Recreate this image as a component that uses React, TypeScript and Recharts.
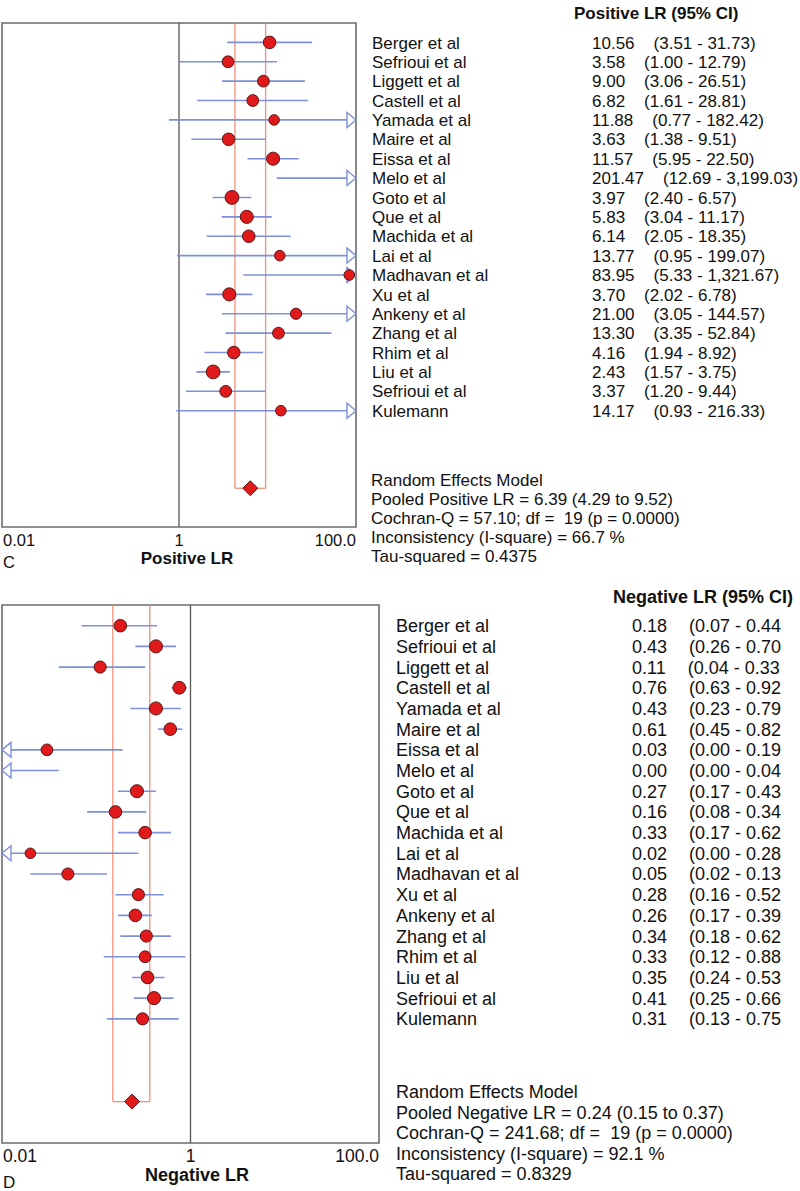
import React from "react";
import {
  ScatterChart, Scatter, XAxis, YAxis, ZAxis,
  ReferenceLine, ReferenceArea,
} from "recharts";

const FONT = "'Liberation Sans', Arial, sans-serif";

// ---- shared
const studies = [
  "Berger et al", "Sefrioui et al", "Liggett et al", "Castell et al", "Yamada et al",
  "Maire et al", "Eissa et al", "Melo et al", "Goto et al", "Que et al",
  "Machida et al", "Lai et al", "Madhavan et al", "Xu et al", "Ankeny et al",
  "Zhang et al", "Rhim et al", "Liu et al", "Sefrioui et al", "Kulemann",
];
const xTicks = [0.01, 1, 100];
const xTickLabels = ["0.01", "1", "100.0"];
const xDomain: [number, number] = [0.01, 100];

// ---- positive LR
const posLR = [10.56, 3.58, 9.0, 6.82, 11.88, 3.63, 11.57, 201.47, 3.97, 5.83, 6.14, 13.77, 83.95, 3.7, 21.0, 13.3, 4.16, 2.43, 3.37, 14.17];
const posLow = [3.51, 1.0, 3.06, 1.61, 0.77, 1.38, 5.95, 12.69, 2.4, 3.04, 2.05, 0.95, 5.33, 2.02, 3.05, 3.35, 1.94, 1.57, 1.2, 0.93];
const posHigh = [31.73, 12.79, 26.51, 28.81, 182.42, 9.51, 22.5, 3199.03, 6.57, 11.17, 18.35, 199.07, 1321.67, 6.78, 144.57, 52.84, 8.92, 3.75, 9.44, 216.33];
const posWeight = [5.8, 5.1, 5.1, 5.1, 4.1, 5.8, 6.3, 4.0, 7.0, 6.3, 5.8, 4.1, 4.1, 6.3, 4.6, 5.1, 5.8, 7.0, 5.1, 4.1];
const posPooled = [6.39, 4.29, 9.52];
const posStats = [
  "Random Effects Model",
  "Pooled Positive LR = 6.39 (4.29 to 9.52)",
  "Cochran-Q = 57.10; df =  19 (p = 0.0000)",
  "Inconsistency (I-square) = 66.7 %",
  "Tau-squared = 0.4375",
];

// ---- negative LR
const negLR = [0.18, 0.43, 0.11, 0.76, 0.43, 0.61, 0.03, 0.0, 0.27, 0.16, 0.33, 0.02, 0.05, 0.28, 0.26, 0.34, 0.33, 0.35, 0.41, 0.31];
const negLow = [0.07, 0.26, 0.04, 0.63, 0.23, 0.45, 0.0, 0.0, 0.17, 0.08, 0.17, 0.0, 0.02, 0.16, 0.17, 0.18, 0.12, 0.24, 0.25, 0.13];
const negHigh = [0.44, 0.7, 0.33, 0.92, 0.79, 0.82, 0.19, 0.04, 0.43, 0.34, 0.62, 0.28, 0.13, 0.52, 0.39, 0.62, 0.88, 0.53, 0.66, 0.75];
const negWeight = [5.8, 6.3, 5.4, 6.0, 6.3, 5.8, 5.1, 4.0, 6.3, 5.8, 5.8, 4.1, 5.4, 5.4, 5.8, 5.4, 5.1, 5.8, 6.3, 5.4];
const negPooled = [0.24, 0.15, 0.37];
const negStats = [
  "Random Effects Model",
  "Pooled Negative LR = 0.24 (0.15 to 0.37)",
  "Cochran-Q = 241.68; df =  19 (p = 0.0000)",
  "Inconsistency (I-square) = 92.1 %",
  "Tau-squared = 0.8329",
];

const CI_COLOR = "#7d90d8";
const POOL_COLOR = "#f2907a";
const DOT_FILL = "#e01a1a";
const DOT_STROKE = "#5a1818";

const fmt = (v: number) =>
  v.toLocaleString("en-US", { minimumFractionDigits: 2, maximumFractionDigits: 2 });

const ciShape = (left: boolean, right: boolean) => (p: any) => {
  const { x1, y1, x2, y2 } = p;
  const a = 9, h = 7.5;
  return (
    <g>
      <line x1={left ? x1 + a : x1} y1={y1} x2={right ? x2 - a : x2} y2={y2} stroke={CI_COLOR} strokeWidth={1.6} />
      {right && (
        <polygon points={`${x2},${y2} ${x2 - a},${y2 - h} ${x2 - a},${y2 + h}`} fill="#fff" stroke={CI_COLOR} strokeWidth={1.4} />
      )}
      {left && (
        <polygon points={`${x1},${y1} ${x1 + a},${y1 - h} ${x1 + a},${y1 + h}`} fill="#fff" stroke={CI_COLOR} strokeWidth={1.4} />
      )}
    </g>
  );
};

const Dot = (p: any) => {
  const r = p.width ? p.width / 2 : Math.sqrt((p.size || 100) / Math.PI);
  return <circle cx={p.cx} cy={p.cy} r={r} fill={DOT_FILL} stroke={DOT_STROKE} strokeWidth={1} />;
};

const Diamond = (p: any) => {
  const { cx, cy } = p;
  const s = 7.5;
  return (
    <polygon
      points={`${cx},${cy - s} ${cx + s},${cy} ${cx},${cy + s} ${cx - s},${cy}`}
      fill={DOT_FILL} stroke={DOT_STROKE} strokeWidth={1}
    />
  );
};

interface PanelProps {
  width: number;
  height: number;
  top: number;
  axisWidth: number;
  bottomMargin: number;
  vals: number[];
  lows: number[];
  highs: number[];
  weights: number[];
  pooled: number[];
  fontSize: number;
  nameDx: number;
  valDx: number;
  gap: number;
  close: boolean;
  tickDy: number;
}

const ForestPanel: React.FC<PanelProps> = ({
  width, height, top, axisWidth, bottomMargin,
  vals, lows, highs, weights, pooled,
  fontSize, nameDx, valDx, gap, close, tickDy,
}) => {
  const rows = studies.map((_, i) => i);
  const poolRow = 23;
  const dots = vals
    .map((v, i) => ({ x: v, y: i, w: weights[i] }))
    .filter((d) => d.x >= xDomain[0] && d.x <= xDomain[1]);

  const RowTick = (p: any) => {
    const i = p.payload.value;
    const dy = fontSize * 0.36;
    return (
      <g fontFamily={FONT} fontSize={fontSize} fill="#111">
        <text x={p.x + nameDx} y={p.y + dy}>{studies[i]}</text>
        <text x={p.x + valDx} y={p.y + dy}>
          <tspan>{fmt(vals[i])}</tspan>
          <tspan dx={gap}>{`(${fmt(lows[i])} - ${fmt(highs[i])}${close ? ")" : ""}`}</tspan>
        </text>
      </g>
    );
  };

  const AxisTick = (p: any) => {
    const k = xTicks.indexOf(p.payload.value);
    const anchor = k === 0 ? "start" : k === 2 ? "end" : "middle";
    return (
      <text x={p.x + (k === 0 ? 1 : 0)} y={p.y + tickDy} textAnchor={anchor}
        fontFamily={FONT} fontSize={fontSize - 0.5} fill="#111">
        {xTickLabels[k]}
      </text>
    );
  };

  return (
    <ScatterChart width={width} height={height}
      margin={{ top, right: 0, left: 2, bottom: bottomMargin }}>
      <XAxis type="number" dataKey="x" scale="log" domain={xDomain} allowDataOverflow
        ticks={xTicks} interval={0} axisLine={false} tickLine={false}
        tickSize={0} tickMargin={0} height={30} tick={AxisTick} />
      <YAxis type="number" dataKey="y" orientation="right" reversed domain={[-1, 25]}
        allowDataOverflow ticks={rows} interval={0} axisLine={false} tickLine={false}
        tickSize={0} tickMargin={0} width={axisWidth} tick={RowTick} />
      <ZAxis type="number" dataKey="w" domain={[0, 7]} range={[0, 150]} />

      <ReferenceArea x1={xDomain[0]} x2={xDomain[1]} y1={-1} y2={25}
        fill="none" stroke="#6c6c6c" strokeWidth={1.6} ifOverflow="visible" />
      <ReferenceLine x={1} stroke="#555" strokeWidth={1.3} ifOverflow="visible" />

      <ReferenceLine segment={[{ x: pooled[1], y: -1 }, { x: pooled[1], y: poolRow }]}
        stroke={POOL_COLOR} strokeWidth={1.3} ifOverflow="visible" />
      <ReferenceLine segment={[{ x: pooled[2], y: -1 }, { x: pooled[2], y: poolRow }]}
        stroke={POOL_COLOR} strokeWidth={1.3} ifOverflow="visible" />
      <ReferenceLine segment={[{ x: pooled[1], y: poolRow }, { x: pooled[2], y: poolRow }]}
        stroke={POOL_COLOR} strokeWidth={1.3} ifOverflow="visible" />

      {rows.map((i) => {
        const lo = Math.max(lows[i], xDomain[0]);
        const hi = Math.min(highs[i], xDomain[1]);
        return (
          <ReferenceLine key={`ci-${i}`}
            segment={[{ x: lo, y: i }, { x: hi, y: i }]}
            ifOverflow="visible"
            shape={ciShape(lows[i] < xDomain[0], highs[i] > xDomain[1])} />
        );
      })}

      <Scatter data={dots} shape={Dot} isAnimationActive={false} />
      <Scatter data={[{ x: pooled[0], y: poolRow, w: 7 }]} shape={Diamond} isAnimationActive={false} />
    </ScatterChart>
  );
};

export default function App() {
  const txt = { fontFamily: FONT, fill: "#111" };
  return (
    <div style={{ position: "absolute", left: 0, top: 0, width: 800, height: 1191, background: "#fff", overflow: "hidden" }}>
      <div style={{ position: "absolute", left: 0, top: 0 }}>
        <ForestPanel width={800} height={595} top={23} axisWidth={444} bottomMargin={38}
          vals={posLR} lows={posLow} highs={posHigh} weights={posWeight} pooled={posPooled}
          fontSize={17} nameDx={16} valDx={236} gap={19} close={true} tickDy={19} />
      </div>
      <div style={{ position: "absolute", left: 0, top: 595 }}>
        <ForestPanel width={800} height={596} top={10} axisWidth={421} bottomMargin={18}
          vals={negLR} lows={negLow} highs={negHigh} weights={negWeight} pooled={negPooled}
          fontSize={18} nameDx={17} valDx={253} gap={22} close={false} tickDy={19} />
      </div>
      <svg width={800} height={1191} style={{ position: "absolute", left: 0, top: 0, pointerEvents: "none" }}>
        <text x={574} y={18.5} fontSize={17} fontWeight="bold" {...txt}>Positive LR (95% CI)</text>
        <text x={187} y={564} fontSize={17} fontWeight="bold" textAnchor="middle" {...txt}>Positive LR</text>
        <text x={3} y={568} fontSize={16.5} {...txt}>C</text>
        {posStats.map((s, i) => (
          <text key={s} x={371} y={486 + i * 19} fontSize={17} style={{ whiteSpace: "pre" }} {...txt}>{s}</text>
        ))}
        <text x={613} y={603} fontSize={18} fontWeight="bold" {...txt}>Negative LR (95% CI)</text>
        <text x={197} y={1181} fontSize={18} fontWeight="bold" textAnchor="middle" {...txt}>Negative LR</text>
        <text x={3} y={1188} fontSize={17} {...txt}>D</text>
        {negStats.map((s, i) => (
          <text key={s} x={396} y={1098 + i * 20.6} fontSize={18} style={{ whiteSpace: "pre" }} {...txt}>{s}</text>
        ))}
      </svg>
    </div>
  );
}
